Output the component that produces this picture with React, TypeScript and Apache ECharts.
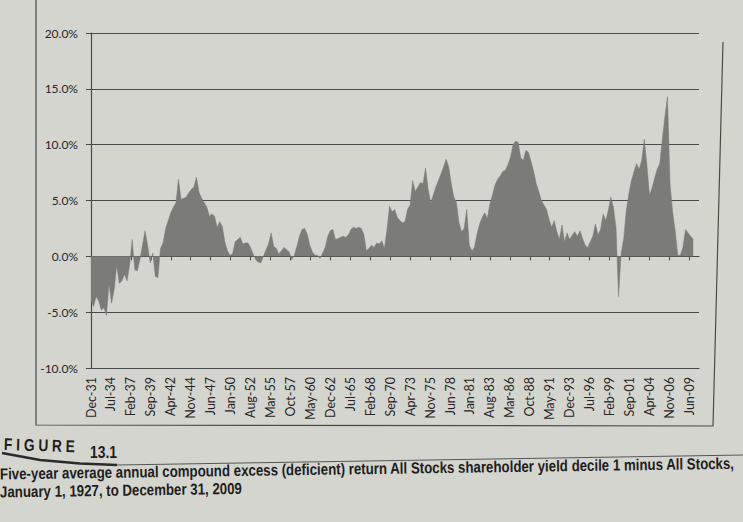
import React, { useEffect, useRef } from 'react';
import * as echarts from 'echarts';

// Five-year average annual compound excess return, sampled every 4 months from Dec-31
const MONTH_STEP = 4;
const excessReturn = [
  -4.0, -4.5, -3.6, -4.0, -4.8, -4.6, -5.3, -2.5, -4.2, -3.0,
  -0.8, -2.4, -2.2, -1.6, -2.2, -0.8, 1.5, -1.2, -1.3, -0.3,
  1.0, 2.3, 1.0, -0.6, 0.3, -1.8, -1.9, 0.7, 1.2, 2.5,
  3.2, 3.9, 4.4, 4.8, 6.9, 5.1, 5.2, 5.3, 5.7, 6.0,
  6.2, 7.1, 5.7, 5.2, 4.8, 4.4, 3.6, 3.8, 3.6, 2.6,
  3.1, 2.7, 1.3, 0.5, 0.1, 0.2, 1.3, 1.5, 1.7, 1.1,
  1.2, 1.2, 0.8, 0.2, -0.3, -0.5, -0.6, 0.0, 0.6, 1.1,
  2.1, 0.9, 0.7, 0.2, 0.5, 0.8, 0.6, 0.4, -0.3, 0.1,
  0.9, 1.8, 2.4, 2.5, 2.0, 1.0, 0.4, 0.1, 0.1, -0.2,
  0.3, 0.8, 1.8, 2.3, 2.4, 1.5, 1.6, 1.7, 1.8, 1.7,
  1.9, 2.4, 2.6, 2.5, 2.6, 2.5, 2.0, 0.5, 0.7, 1.0,
  0.8, 1.2, 1.1, 1.4, 0.7, 2.4, 4.5, 4.0, 4.2, 3.5,
  3.2, 3.0, 3.1, 4.2, 4.6, 6.8, 5.8, 6.2, 6.6, 6.5,
  7.9, 6.0, 4.8, 5.5, 6.2, 6.8, 7.4, 8.0, 8.7, 8.0,
  6.5, 5.3, 4.8, 3.0, 2.2, 2.5, 4.2, 1.0, 0.5, 0.8,
  2.0, 2.9, 3.5, 3.9, 3.4, 4.7, 5.5, 6.4, 6.9, 7.2,
  7.6, 7.7, 8.2, 8.9, 10.0, 10.3, 10.2, 8.8, 8.6, 9.5,
  9.3, 8.5, 7.6, 6.5, 5.8, 5.0, 4.6, 4.2, 3.3, 2.6,
  3.2, 2.2, 1.5, 2.8, 1.3, 2.1, 1.5, 1.9, 2.2, 1.8,
  2.3, 1.6, 1.0, 0.8, 1.3, 1.8, 2.9, 1.9, 2.4, 3.8,
  3.2, 4.1, 5.3, 4.4, 2.6, -3.6, 0.3, 1.6, 4.1, 5.6,
  6.8, 7.6, 8.3, 7.8, 8.6, 10.5, 8.2, 5.5, 6.1, 7.0,
  7.8, 8.3, 10.5, 12.5, 14.3, 6.5, 4.0, 2.3, 0.1, 0.1,
  0.8, 2.4, 2.1, 1.8, 1.5,
];

const LABEL_EVERY = 31; // months between category labels
const xTickLabels = [
  'Dec-31', 'Jul-34', 'Feb-37', 'Sep-39', 'Apr-42', 'Nov-44', 'Jun-47', 'Jan-50',
  'Aug-52', 'Mar-55', 'Oct-57', 'May-60', 'Dec-62', 'Jul-65', 'Feb-68', 'Sep-70',
  'Apr-73', 'Nov-75', 'Jun-78', 'Jan-81', 'Aug-83', 'Mar-86', 'Oct-88', 'May-91',
  'Dec-93', 'Jul-96', 'Feb-99', 'Sep-01', 'Apr-04', 'Nov-06', 'Jun-09',
];
const AXIS_MAX_MONTH = 945;

const figureLabel = 'F I G U R E';
const figureNumber = '13.1';
const captionLines = [
  'Five-year average annual compound excess (deficient) return All Stocks shareholder yield decile 1 minus All Stocks,',
  'January 1, 1927, to December 31, 2009',
];

const PAPER = '#d5d5d0';
const INK = '#4a4a4a';
const TEXT = '#262626';
const FILL = '#7b7b78';

function measure(text: string, font: string): number {
  const ctx = document.createElement('canvas').getContext('2d');
  if (!ctx) return text.length * 7;
  ctx.font = font;
  return ctx.measureText(text).width;
}

export default function App() {
  const ref = useRef<HTMLDivElement>(null);
  useEffect(() => {
    if (!ref.current) return;
    const chart = echarts.init(ref.current, undefined, { renderer: 'svg' });
    const points = excessReturn.map((v, i) => [i * MONTH_STEP, v]);
    const tickValues = xTickLabels.map((_, i) => i * LABEL_EVERY);

    const captionFont = "bold 16px 'Liberation Sans', Arial, sans-serif";
    const capScale = 736 / measure(captionLines[0], captionFont);
    const figFont = "bold 17px 'Liberation Sans', Arial, sans-serif";
    const figScale = 71 / measure(figureLabel, figFont);
    const numFont = "bold 17px 'Liberation Sans', Arial, sans-serif";
    const numScale = 27 / measure(figureNumber, numFont);
    const tilt = 0.014;

    chart.setOption({
      animation: false,
      backgroundColor: PAPER,
      textStyle: { fontFamily: 'Lato, sans-serif' },
      grid: { left: 91, right: 44, top: 33, bottom: 154 },
      xAxis: [
        {
          type: 'value', min: 0, max: AXIS_MAX_MONTH, interval: LABEL_EVERY, position: 'bottom',
          axisLine: { show: true, onZero: false, lineStyle: { color: INK, width: 1.2 } },
          axisTick: { show: false },
          splitLine: { show: false },
          axisLabel: {
            customValues: tickValues,
            rotate: 90, margin: 9, fontSize: 12.5, color: TEXT,
            formatter: (v: number) => (v % LABEL_EVERY === 0 ? xTickLabels[v / LABEL_EVERY] ?? '' : ''),
          },
        },
        {
          type: 'value', min: 0, max: AXIS_MAX_MONTH, interval: LABEL_EVERY, position: 'bottom',
          axisLine: { show: true, onZero: true, lineStyle: { color: INK, width: 1.2 } },
          axisTick: { show: true, length: 4, customValues: tickValues, lineStyle: { color: INK } },
          axisLabel: { show: false },
          splitLine: { show: false },
        },
      ],
      yAxis: {
        type: 'value', min: -10, max: 20, interval: 5,
        axisLine: { show: true, lineStyle: { color: INK, width: 1.2 } },
        axisTick: { show: true, length: 5, lineStyle: { color: INK } },
        axisLabel: { margin: 13, fontSize: 12, color: TEXT, formatter: (v: number) => v.toFixed(1) + '%' },
        splitLine: { lineStyle: { color: INK, width: 1.2 } },
      },
      series: [
        {
          type: 'line', xAxisIndex: 0, data: points, symbol: 'none', showSymbol: false, silent: true,
          lineStyle: { width: 0.5, color: FILL },
          areaStyle: { color: FILL, opacity: 1 },
        },
      ],
      graphic: [
        {
          type: 'polyline', silent: true,
          shape: { points: [[36, 0], [36, 425], [713, 426], [723, 42]] },
          style: { fill: 'none', stroke: INK, lineWidth: 1.2 },
        },
        {
          type: 'text', x: 4, y: 444, scaleX: figScale, rotation: -0.03,
          style: { text: figureLabel, font: figFont, fill: '#1e1e1e', verticalAlign: 'middle' },
        },
        {
          type: 'text', x: 90, y: 452, scaleX: numScale,
          style: { text: figureNumber, font: numFont, fill: '#1e1e1e', verticalAlign: 'middle' },
        },
        {
          type: 'polyline', silent: true,
          shape: { points: [[2, 453], [40, 460], [80, 463.5], [117, 465]] },
          style: { fill: 'none', stroke: '#2a2a2a', lineWidth: 2.5 },
        },
        {
          type: 'line', silent: true,
          shape: { x1: 117, y1: 465, x2: 743, y2: 455 },
          style: { stroke: '#555', lineWidth: 1 },
        },
        {
          type: 'text', x: 0, y: 474, scaleX: capScale, rotation: tilt,
          style: { text: captionLines[0], font: captionFont, fill: '#1e1e1e', verticalAlign: 'middle' },
        },
        {
          type: 'text', x: 0, y: 492, scaleX: capScale, rotation: tilt,
          style: { text: captionLines[1], font: captionFont, fill: '#1e1e1e', verticalAlign: 'middle' },
        },
      ],
    });
    return () => chart.dispose();
  }, []);
  return (
    <div
      ref={ref}
      style={{ position: 'fixed', left: 0, top: 0, width: 743, height: 522, background: PAPER }}
    />
  );
}
